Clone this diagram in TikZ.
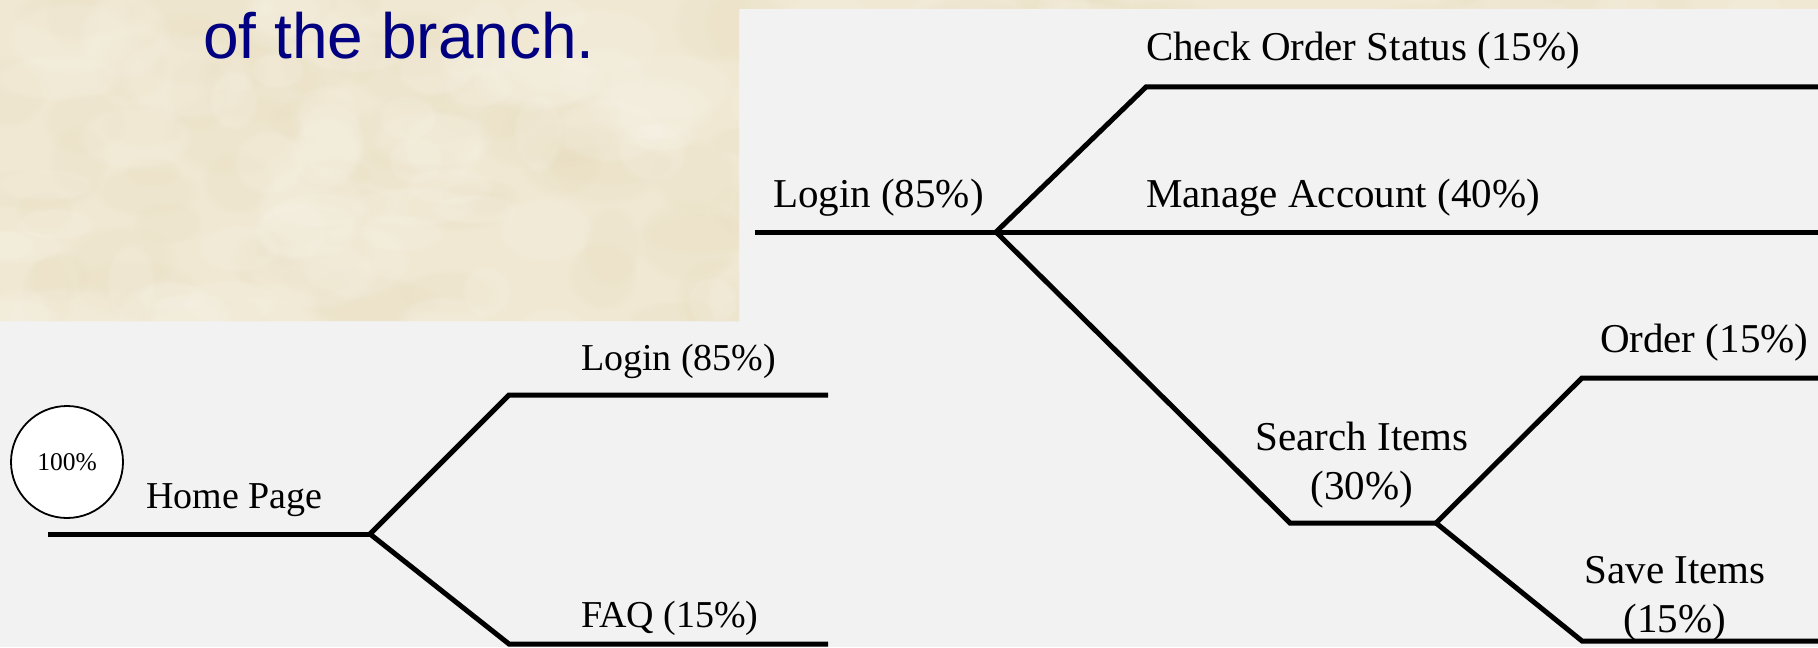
\documentclass[tikz,border=0pt]{standalone}
\usepackage{fontspec}
\usetikzlibrary{fadings}
\setmainfont{Liberation Serif}
\newfontfamily\headfont{Liberation Sans}
\definecolor{panelgrey}{RGB}{242,242,242}
\definecolor{parchment}{RGB}{240,232,210}
\definecolor{parchdark}{RGB}{228,216,182}
\definecolor{parchlight}{RGB}{248,244,233}
\definecolor{headblue}{RGB}{0,0,128}
\begin{document}
\begin{tikzpicture}[x=0.5pt,y=-0.5pt,
  branch/.style={line width=2.5pt, black},
  homelbl/.style={anchor=base west, inner sep=0pt, outer sep=0pt, font=\fontsize{19}{23}\selectfont},
  pathlbl/.style={anchor=base west, inner sep=0pt, outer sep=0pt, font=\fontsize{20.5}{24.5}\selectfont},
  stacklbl/.style={anchor=north, align=center, inner sep=0pt, outer sep=0pt, font=\fontsize{20.5}{24.5}\selectfont},
  share/.style={circle, draw, line width=0.9pt, fill=white, minimum size=56pt, inner sep=0pt, font=\fontsize{12.75}{15}\selectfont},
  blot/.style={path fading=circle with fuzzy edge 20 percent}
]
\useasboundingbox (0,0) rectangle (1818,647);
% backgrounds
\fill[panelgrey] (0,0) rectangle (1818,647);
\fill[parchment] (0,0) rectangle (1818,9) (0,0) rectangle (739,321);
% faint mottled paper texture
\begin{scope}
  \clip (0,0) rectangle (1818,9) (0,0) rectangle (739,321);
  \pgfmathsetseed{4127}
  \foreach \k in {1,...,160} {
    \pgfmathsetmacro{\bx}{rnd*1818}
    \pgfmathsetmacro{\by}{rnd*330}
    \pgfmathsetmacro{\bw}{25+rnd*45}
    \pgfmathsetmacro{\bh}{15+rnd*30}
    \fill[parchdark, opacity=0.14, blot] (\bx,\by) ellipse [x radius=\bw, y radius=\bh];
  }
  \foreach \k in {1,...,140} {
    \pgfmathsetmacro{\bx}{rnd*1818}
    \pgfmathsetmacro{\by}{rnd*330}
    \pgfmathsetmacro{\bw}{25+rnd*45}
    \pgfmathsetmacro{\bh}{15+rnd*30}
    \fill[parchlight, opacity=0.22, blot] (\bx,\by) ellipse [x radius=\bw, y radius=\bh];
  }
\end{scope}
\node[anchor=base west, inner sep=0pt, text=headblue, font=\headfont\fontsize{32}{38}\selectfont] (head) at (203,59) {of the branch.};

% ---- home page tree ----
\coordinate (h0) at (48,534);
\coordinate (hj) at (370,534);
\coordinate (hu) at (509,395);
\coordinate (hue) at (828,395);
\coordinate (hd) at (509,644);
\coordinate (hde) at (828,644);
\draw[branch] (h0) -- (hj);
\draw[branch] (hue) -- (hu) -- (hj) -- (hd) -- (hde);
\node[share] (all) at (67,462) {100\%};
\node[homelbl] (home) at (146,508) {Home Page};
\node[homelbl] (login1) at (581,370) {Login (85\%)};
\node[homelbl] (faq) at (581,627) {FAQ (15\%)};

% ---- login tree ----
\coordinate (l0) at (755,232);
\coordinate (lj) at (996,232);
\coordinate (lu) at (1146,87);
\coordinate (lue) at (1818,87);
\coordinate (lme) at (1818,232);
\coordinate (s0) at (1290,523);
\coordinate (sj) at (1436,523);
\coordinate (su) at (1582,378);
\coordinate (sue) at (1818,378);
\coordinate (sd) at (1582,641);
\coordinate (sde) at (1818,641);
\draw[branch] (l0) -- (lme);
\draw[branch] (lue) -- (lu) -- (lj) -- (s0) -- (sj);
\draw[branch] (sue) -- (su) -- (sj) -- (sd) -- (sde);
\node[pathlbl] (login2) at (773,207) {Login (85\%)};
\node[pathlbl] (check) at (1146,61) {Check Order Status (15\%)};
\node[pathlbl] (manage) at (1146,207) {Manage Account (40\%)};
\node[stacklbl] (search) at (1362,422) {Search Items\\(30\%)};
\node[pathlbl] (order) at (1600,352) {Order (15\%)};
\node[stacklbl] (save) at (1675,556) {Save Items\\(15\%)};
\end{tikzpicture}
\end{document}
